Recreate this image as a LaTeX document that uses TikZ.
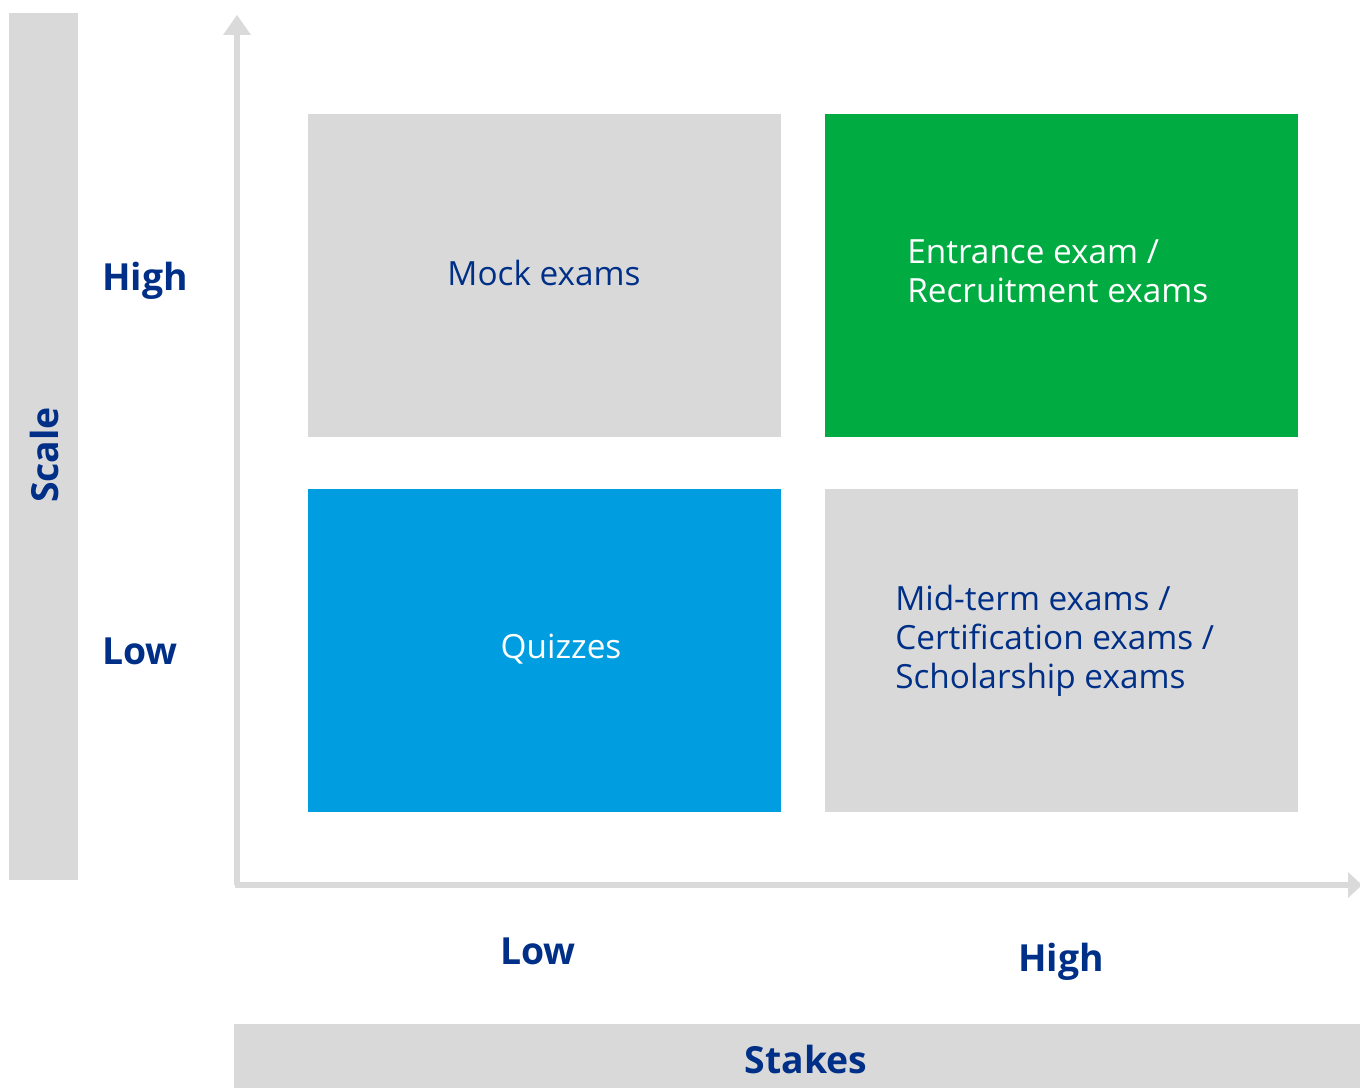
\documentclass[tikz,border=0pt]{standalone}
\usepackage{fontspec}
\setmainfont{Open Sans}
\definecolor{navy}{RGB}{0,47,135}
\definecolor{lgray}{RGB}{217,217,217}
\definecolor{agray}{RGB}{218,218,218}
\definecolor{mgreen}{RGB}{0,172,65}
\definecolor{mblue}{RGB}{0,158,224}
\begin{document}
\begin{tikzpicture}[x=0.75pt,y=-0.75pt,
  cell/.style={minimum width=473*0.75pt,minimum height=323*0.75pt,inner sep=0pt,anchor=north west},
  celltext/.style={font=\fontsize{25}{29}\selectfont},
  axlabel/.style={font=\fontsize{28}{32}\selectfont\bfseries,text=navy},
  bar/.style={fill=lgray,draw=none},
  axis/.style={draw=agray,line width=4.5pt}]
\useasboundingbox (0,0) rectangle (1360,1088);
% side bars
\fill[bar] (9,13) rectangle (78,880);
\fill[bar] (234,1024) rectangle (1360,1088);
\node[axlabel,rotate=90] (scale) at (44,455) {Scale};
\node[axlabel] (stakes) at (806,1059) {Stakes};
% axes
\coordinate (origin) at (237,885);
\coordinate (ytop) at (237,32);
\coordinate (xend) at (1348,885);
\draw[axis] (origin) -- (ytop);
\draw[axis] (234.75,885) -- (xend);
\fill[agray] (223,35) -- (237,15) -- (251,35) -- cycle;
\fill[agray] (1348,872) -- (1362,885) -- (1348,898) -- cycle;
% cells
\node[cell,fill=lgray] (mock) at (308,114) {};
\node[cell,fill=mgreen] (entr) at (825,114) {};
\node[cell,fill=mblue] (quiz) at (308,489) {};
\node[cell,fill=lgray] (mid) at (825,489) {};
\node[celltext,text=navy] (mockt) at (544,273) {Mock exams};
\node[celltext,text=white] (quizt) at (561,649) {Quizzes};
\node[celltext,text=white,anchor=west,align=left,inner sep=0pt] (entrt) at (907,271) {Entrance exam /\\Recruitment exams};
\node[celltext,text=navy,anchor=west,align=left,inner sep=0pt] (midt) at (895,641) {Mid-term exams /\\Certification exams /\\Scholarship exams};
% axis labels
\node[axlabel,anchor=west,inner sep=0pt] (yhigh) at (102,281) {High};
\node[axlabel,anchor=west,inner sep=0pt] (ylow) at (102,651) {Low};
\node[axlabel] (xlow) at (538,951) {Low};
\node[axlabel] (xhigh) at (1061,962) {High};
\end{tikzpicture}
\end{document}
